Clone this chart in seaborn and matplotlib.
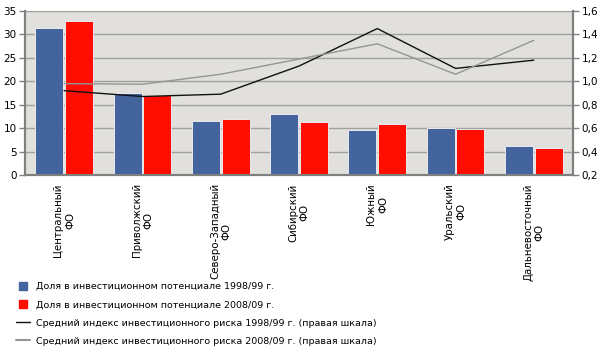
import numpy as np
import pandas as pd
import seaborn as sns
import matplotlib.pyplot as plt
from matplotlib.lines import Line2D
from matplotlib.ticker import FuncFormatter, MultipleLocator

# Data
regions = ["Центральный\nФО", "Приволжский\nФО", "Северо-Западный\nФО", "Сибирский\nФО",
           "Южный\nФО", "Уральский\nФО", "Дальневосточный\nФО"]
share_1998 = [31.4, 17.6, 11.6, 13.1, 9.5, 10.0, 6.2]
share_2008 = [32.9, 17.1, 11.9, 11.4, 10.9, 9.75, 5.7]
risk_1998 = [0.92, 0.87, 0.89, 1.13, 1.45, 1.11, 1.18]
risk_2008 = [0.98, 0.975, 1.06, 1.19, 1.32, 1.06, 1.35]

lbl_share_98 = "Доля в инвестиционном потенциале 1998/99 г."
lbl_share_08 = "Доля в инвестиционном потенциале 2008/09 г."
lbl_risk_98 = "Средний индекс инвестиционного риска 1998/99 г. (правая шкала)"
lbl_risk_08 = "Средний индекс инвестиционного риска 2008/09 г. (правая шкала)"

blue = "#44649E"
red = "#FF0D00"
dark = "#111111"
grey = "#959595"
axis_grey = "#808080"

df = pd.DataFrame({
    "region": regions * 2,
    "share": share_1998 + share_2008,
    "period": [lbl_share_98] * len(regions) + [lbl_share_08] * len(regions),
})

sns.set_style("white")
plt.rcParams["font.family"] = ["DejaVu Sans"]
plt.rcParams["font.size"] = 7
plt.rcParams["text.color"] = "black"
plt.rcParams["xtick.color"] = "black"
plt.rcParams["ytick.color"] = "black"

fig = plt.figure(figsize=(6.01, 3.55), dpi=100)
ax = fig.add_axes([25 / 601, 1 - 175 / 355, (573 - 25) / 601, 164 / 355])
ax.set_facecolor("#E1E0DC")

sns.barplot(data=df, x="region", y="share", hue="period",
            palette=[blue, red], saturation=1, width=0.76, gap=0.06,
            edgecolor="#e9e9ee", linewidth=0.7, legend=False, ax=ax, zorder=3)

ax.set_ylim(0, 35)
ax.yaxis.set_major_locator(MultipleLocator(5))
ax.grid(axis="y", color="#a0a0a0", linewidth=1, zorder=0)
ax.set_axisbelow(True)
ax.set_xlabel("")
ax.set_ylabel("")
ax.set_xlim(-0.5, len(regions) - 0.5)
ax.tick_params(axis="y", length=4, width=1, color=axis_grey, labelcolor="black", pad=2, labelsize=7.5)
ax.tick_params(axis="x", length=3, width=1, color=axis_grey, labelcolor="black", pad=3, labelsize=7.4)
ax.set_xticks(range(len(regions)))
ax.set_xticklabels(regions, rotation=90, ha="center", va="top", ma="center")

ax2 = ax.twinx()
idx = np.arange(len(regions))
sns.lineplot(x=idx, y=risk_1998, color=dark, linewidth=1, ax=ax2)
sns.lineplot(x=idx, y=risk_2008, color=grey, linewidth=1, ax=ax2)
ax2.set_ylim(0.2, 1.6)
ax2.yaxis.set_major_locator(MultipleLocator(0.2))
ax2.yaxis.set_major_formatter(FuncFormatter(lambda v, p: f"{v:.1f}".replace(".", ",")))
ax2.tick_params(axis="y", length=4, width=1, color=axis_grey, labelcolor="black", pad=2, labelsize=7.5)

for a in (ax, ax2):
    a.spines["top"].set_visible(False)
    for s in ("left", "right", "bottom"):
        a.spines[s].set_color(axis_grey)
        a.spines[s].set_linewidth(1.5)

handles = [
    Line2D([], [], marker="s", linestyle="", color=blue, markersize=5.5),
    Line2D([], [], marker="s", linestyle="", color=red, markersize=5.5),
    Line2D([], [], color=dark, linewidth=1),
    Line2D([], [], color=grey, linewidth=1.5),
]
labels = [lbl_share_98, lbl_share_08, lbl_risk_98, lbl_risk_08]
fig.legend(handles, labels, loc="upper left", bbox_to_anchor=(16 / 601, 1 - 282 / 355),
           frameon=False, fontsize=6.8, handlelength=1.5, handletextpad=0.6,
           labelspacing=0.98, borderpad=0, borderaxespad=0)

fig.savefig("out.png", dpi=100)
